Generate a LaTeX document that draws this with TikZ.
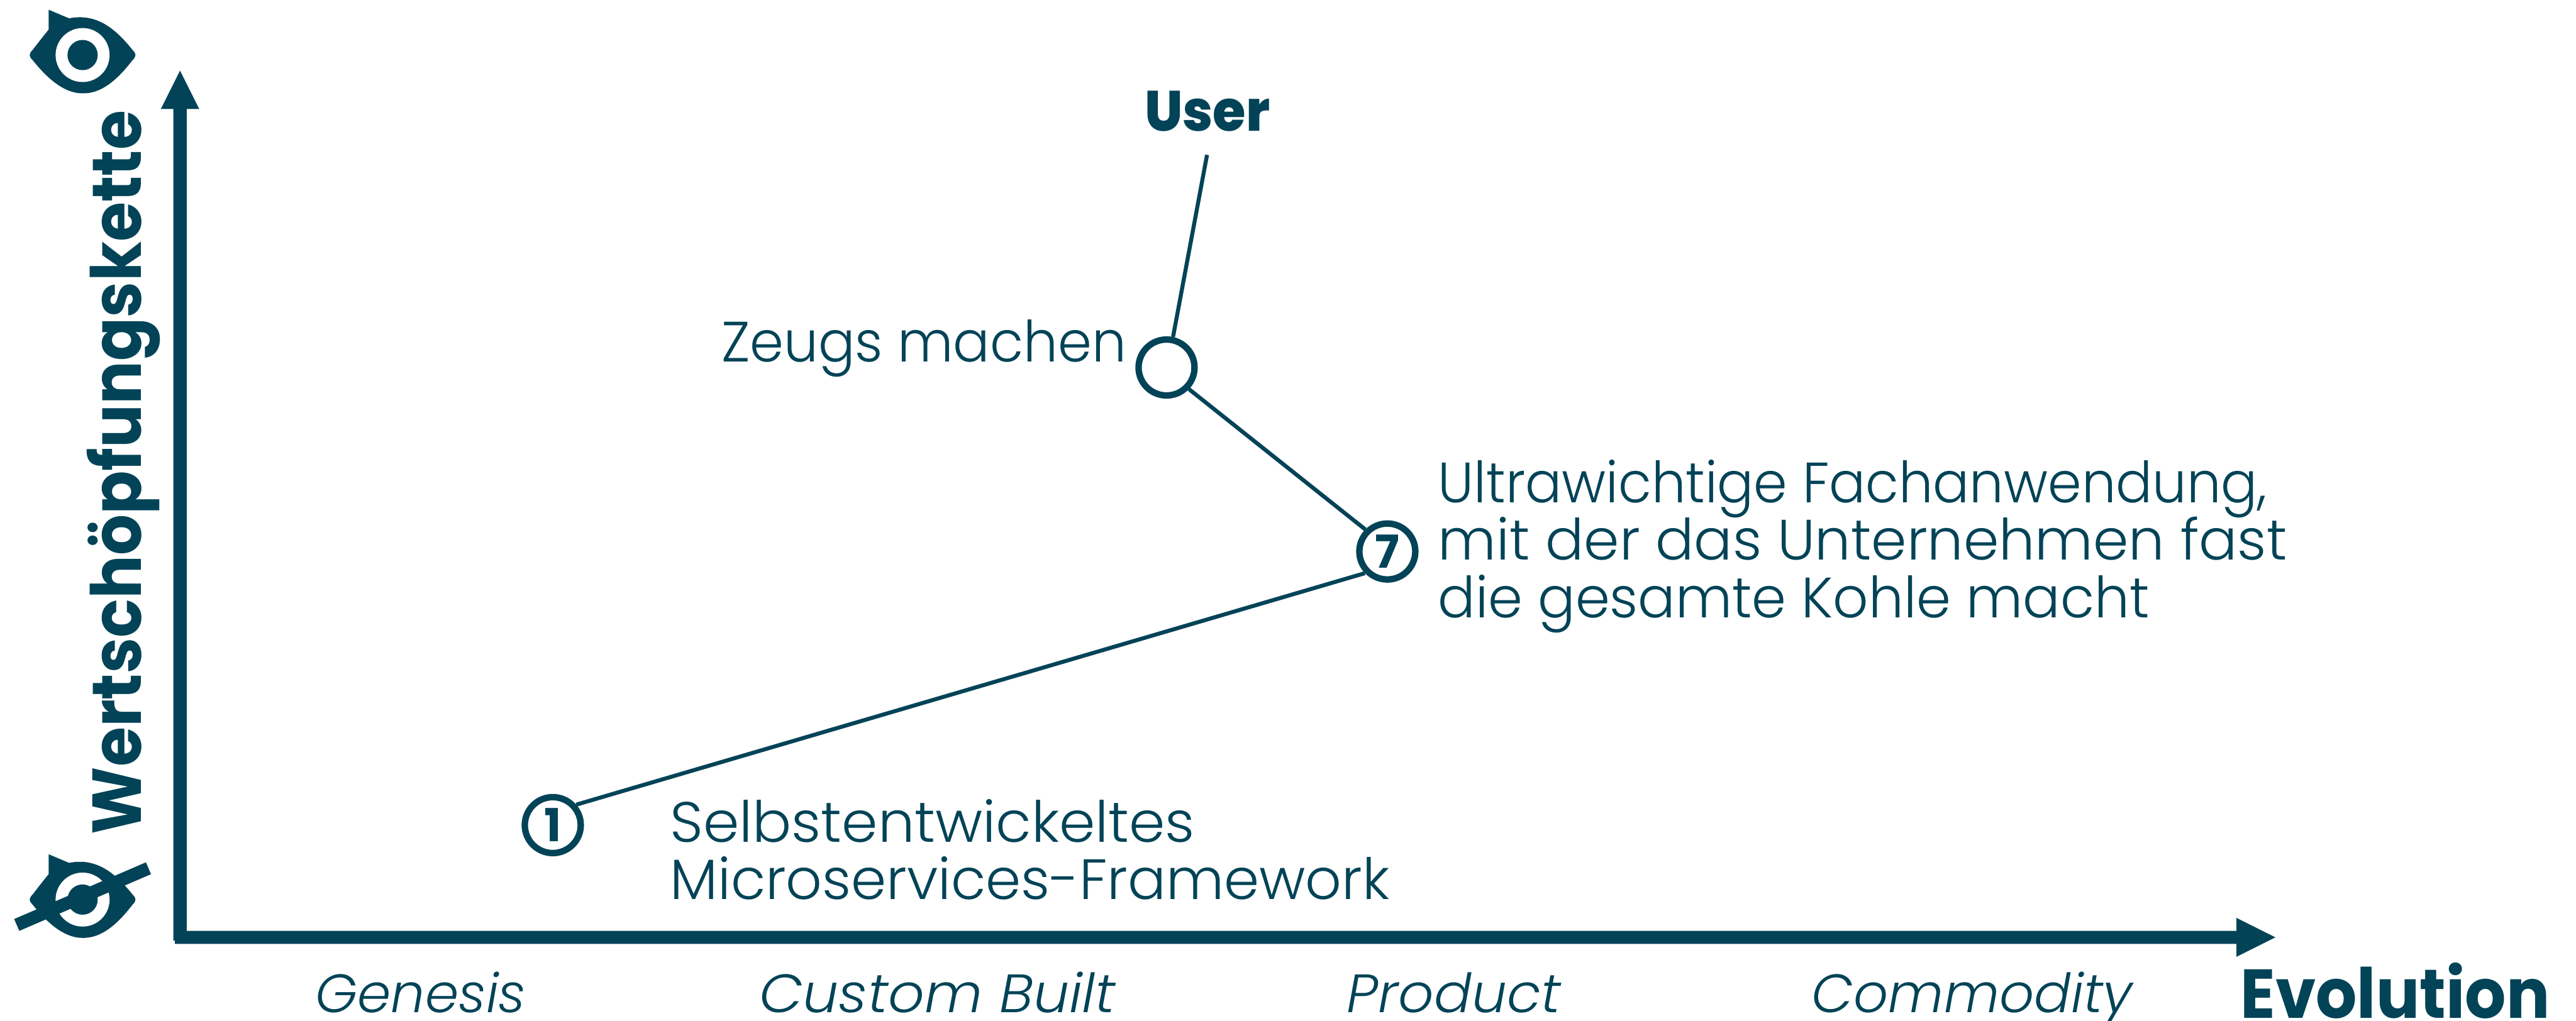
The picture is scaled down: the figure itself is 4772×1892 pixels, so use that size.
\documentclass[tikz,border=0pt]{standalone}
\usepackage{fontspec}
\setmainfont{Poppins Light}[BoldFont=Poppins Bold,ItalicFont=Poppins Light Italic]
\newfontfamily\heavyfont{Poppins ExtraBold}
\definecolor{ink}{HTML}{034357}
\newdimen\pxu \pxu=0.02cm
\newcommand{\fitw}[2]{\resizebox{#1\pxu}{\height}{#2}}
\tikzset{
  lbl/.style={text=ink,inner sep=0pt,font=\fontsize{60}{62}\selectfont,anchor=base west,align=left},
  hd/.style={text=ink,inner sep=0pt,font=\fontsize{73}{75}\selectfont\bfseries,anchor=base west},
  evo/.style={text=ink,inner sep=0pt,font=\fontsize{57}{60}\selectfont\itshape,anchor=base west},
  pt/.style={circle,draw=ink,line width=6.8pt,fill=white,minimum size=59pt,inner sep=0pt,text=ink,font=\fontsize{48}{48}\selectfont\bfseries},
  link/.style={draw=ink,line width=4.2pt},
  axis/.style={fill=ink,draw=none}
}
\newcommand{\eyeicon}[2]{%
  \fill[ink] (#1-63,#2-84) -- (#1-25,#2-68) .. controls (#1+25,#2-78) and (#1+60,#2-50) .. (#1+92,#2-10) .. controls (#1+100,#2-2) and (#1+100,#2+2) .. (#1+92,#2+10) .. controls (#1+50,#2+65) and (#1+20,#2+71) .. (#1,#2+71) .. controls (#1-30,#2+71) and (#1-60,#2+50) .. (#1-92,#2+10) .. controls (#1-100,#2+2) and (#1-100,#2-2) .. (#1-92,#2-10) .. controls (#1-80,#2-26) and (#1-75,#2-32) .. (#1-63,#2-47) -- cycle;
  \fill[white] (#1,#2) circle[radius=50];
  \fill[ink] (#1,#2) circle[radius=28];
}
\begin{document}
\begin{tikzpicture}[x=0.02cm,y=-0.02cm]
\useasboundingbox (0,0) rectangle (4772,1892);
\eyeicon{153}{102}
\eyeicon{153}{1667}
\coordinate (sa) at (31,1714);
\coordinate (sb) at (275,1609);
\draw[ink,line width=13.6pt] (sa) -- (sb);
\fill[axis] (321,1743) -- (321,202) -- (298,202) -- (333.5,131) -- (369,202) -- (346,202) -- (346,1725) -- (4143,1725) -- (4143,1701) -- (4215,1737) -- (4143,1773) -- (4143,1749) -- (324,1749) -- (324,1743) -- cycle;
\node[hd,rotate=90] (yl) at (262,1547) {\fitw{1342}{Wertschöpfungskette}};
\node[hd,font=\fontsize{60}{64}\heavyfont] (user) at (2120,243) {\fitw{232}{User}};
\node[pt] (a) at (2161,681) {};
\node[pt] (b) at (2570,1022) {7};
\node[pt] (c) at (1024,1529) {1};
\coordinate (ue) at (2236,287);
\draw[link] (ue) -- (a.78);
\draw[link] (a.-44) -- (b.135);
\draw[link] (c.41) -- (b.224);
\node[lbl] (z) at (1336,670) {\fitw{750}{Zeugs machen}};
\node[lbl] (u1) at (2664,932) {\fitw{1535}{Ultrawichtige Fachanwendung,}};
\node[lbl] (u2) at (2664,1038) {\fitw{1572}{mit der das Unternehmen fast}};
\node[lbl] (u3) at (2664,1145) {\fitw{1317}{die gesamte Kohle macht}};
\node[lbl] (s1) at (1241,1560) {\fitw{972}{Selbstentwickeltes}};
\node[lbl] (s2) at (1241,1666) {\fitw{1333}{Microservices-Framework}};
\node[evo] (g) at (584,1876) {\fitw{390}{Genesis}};
\node[evo] (k) at (1406,1876) {\fitw{660}{Custom Built}};
\node[evo] (p) at (2495,1876) {\fitw{396}{Product}};
\node[evo] (m) at (3356,1876) {\fitw{594}{Commodity}};
\node[hd] (e) at (4150,1887) {\fitw{573}{Evolution}};
\end{tikzpicture}
\end{document}
